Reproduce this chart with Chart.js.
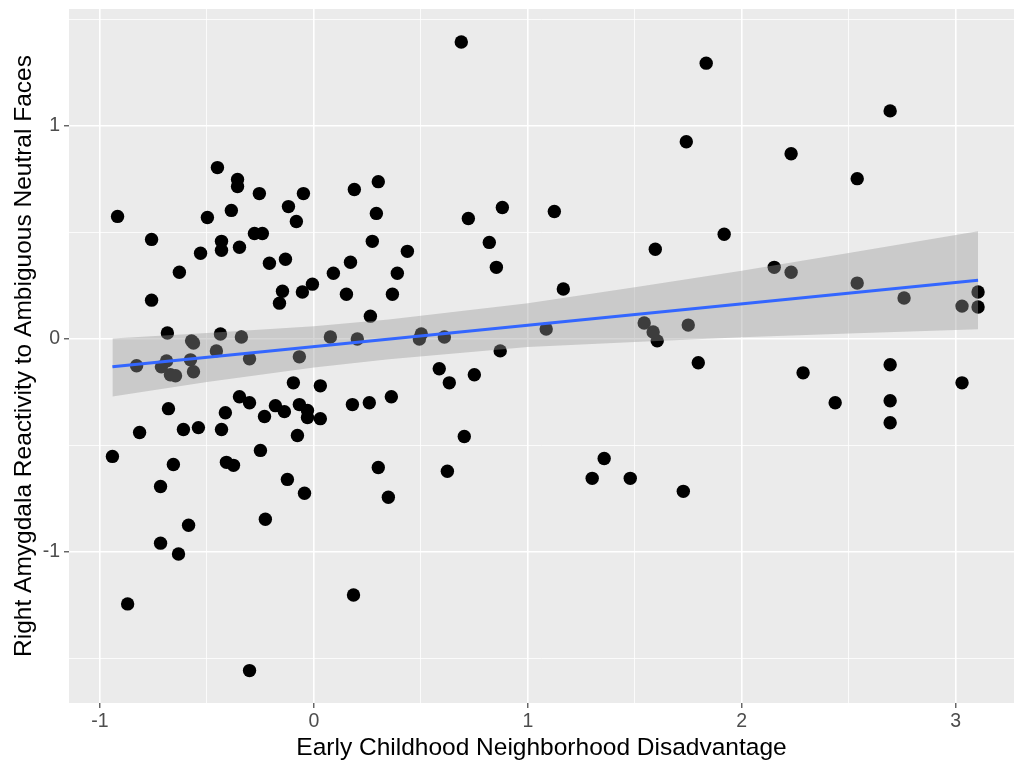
<!DOCTYPE html>
<html>
<head>
<meta charset="utf-8">
<title>Right Amygdala Reactivity vs Early Childhood Neighborhood Disadvantage</title>
<script src="https://cdn.jsdelivr.net/npm/chart.js@4.4.1/dist/chart.umd.min.js"></script>
<style>
  html, body { margin: 0; padding: 0; background: #ffffff; }
  canvas { display: block; }
</style>
</head>
<body>
<canvas id="scatterChart" width="1014" height="761"></canvas>
<script>
// participants: neighborhood disadvantage (x) and amygdala reactivity (y)
const xValues = [
  -0.918, -0.759, -0.451, -0.357, -0.357, -0.255, -0.498, -0.386, -0.119, -0.049,
  -0.082, -0.278, -0.241, -0.432, -0.432, -0.348, -0.530, -0.208, -0.133, 0.689,
  0.189, 0.301, 0.292, 0.273, 0.437, 0.171, 0.722, 0.881, 1.124, 0.820,
  1.834, 2.694, 1.741, 2.231, 2.540, 1.918, 1.596, -0.629, -0.759, 0.091,
  -0.007, -0.054, -0.147, -0.161, -0.685, -0.437, -0.339, 0.077, -0.572, -0.563,
  -0.456, -0.829, -0.689, -0.713, -0.671, -0.647, -0.577, -0.563, -0.301, -0.068,
  -0.096, 0.030, -0.348, -0.301, -0.680, -0.414, -0.231, -0.180, -0.138, -0.068,
  -0.030, -0.030, 0.030, -0.077, -0.610, -0.540, -0.432, -0.815, -0.250, -0.942,
  -0.657, -0.409, -0.376, -0.124, -0.717, -0.044, 0.152, 0.390, 0.367, 0.264,
  0.853, 1.166, 0.203, 0.502, 0.493, 0.610, 1.086, 0.871, 0.586, 0.633,
  0.750, 0.180, 0.259, 0.362, 0.703, 0.301, 0.624, 1.357, 1.301, 1.479,
  0.348, 2.152, 2.231, 2.540, 2.759, 3.105, 3.030, 3.105, 1.544, 1.586,
  1.605, 1.750, 1.797, 2.287, 2.437, 2.694, 2.694, 2.694, 3.030, 1.727,
  -0.227, -0.586, -0.717, -0.633, -0.871, -0.301, 0.185
];
const yValues = [
  0.575, 0.467, 0.804, 0.748, 0.715, 0.682, 0.570, 0.603, 0.621, 0.682,
  0.551, 0.495, 0.495, 0.458, 0.416, 0.430, 0.402, 0.355, 0.374, 1.393,
  0.701, 0.738, 0.589, 0.458, 0.411, 0.360, 0.565, 0.617, 0.598, 0.453,
  1.294, 1.070, 0.925, 0.869, 0.752, 0.491, 0.421, 0.313, 0.182, 0.308,
  0.257, 0.220, 0.224, 0.168, 0.028, 0.023, 0.009, 0.009, -0.009, -0.019,
  -0.056, -0.126, -0.103, -0.131, -0.168, -0.173, -0.098, -0.154, -0.093, -0.084,
  -0.206, -0.220, -0.271, -0.299, -0.327, -0.346, -0.364, -0.313, -0.341, -0.308,
  -0.336, -0.369, -0.374, -0.453, -0.425, -0.416, -0.425, -0.439, -0.523, -0.551,
  -0.589, -0.579, -0.593, -0.659, -0.692, -0.724, 0.210, 0.308, 0.210, 0.107,
  0.336, 0.234, 0.000, 0.023, 0.000, 0.009, 0.047, -0.056, -0.140, -0.206,
  -0.168, -0.308, -0.299, -0.271, -0.458, -0.603, -0.621, -0.561, -0.654, -0.654,
  -0.743, 0.336, 0.313, 0.262, 0.192, 0.220, 0.154, 0.150, 0.075, 0.033,
  -0.009, 0.065, -0.112, -0.159, -0.299, -0.121, -0.290, -0.393, -0.206, -0.715,
  -0.846, -0.874, -0.958, -1.009, -1.243, -1.556, -1.201
];

// linear fit and its confidence band
const fitX = [-0.942, 3.105];
const fitY = [-0.13, 0.275];
const bandX = [-0.942, -0.5, 0, 0.35, 1, 1.5, 2, 2.5, 3.105];
const bandUpper = [0.002, 0.028, 0.06, 0.091, 0.168, 0.242, 0.32, 0.403, 0.505];
const bandLower = [-0.27, -0.202, -0.134, -0.095, -0.038, -0.014, 0.008, 0.025, 0.045];

// axis ticks: majors are labelled, minors only get a thin grid line
const xTickValues = [-1, -0.5, 0, 0.5, 1, 1.5, 2, 2.5, 3];
const yTickValues = [-1.5, -1, -0.5, 0, 0.5, 1, 1.5];

const xTitle = "Early Childhood Neighborhood Disadvantage";
const yTitle = "Right Amygdala Reactivity to Ambiguous Neutral Faces";

Chart.defaults.font.family = "'Liberation Sans', Arial, Helvetica, sans-serif";

const isMajor = (v) => Number.isInteger(v);

// grey ggplot-style panel behind the grid
const panelBackground = {
  id: "panelBackground",
  beforeDraw(chart) {
    const { ctx, chartArea } = chart;
    ctx.save();
    ctx.fillStyle = "#EBEBEB";
    ctx.fillRect(
      chartArea.left,
      chartArea.top,
      chartArea.right - chartArea.left,
      chartArea.bottom - chartArea.top
    );
    ctx.restore();
  },
};

function toPoints(xs, ys) {
  return xs.map((x, i) => ({ x: x, y: ys[i] }));
}

function axisGrid() {
  return {
    color: "#FFFFFF",
    lineWidth: (c) => (c.tick && isMajor(c.tick.value) ? 1.6 : 0.8),
    tickColor: (c) =>
      c.tick && isMajor(c.tick.value) ? "#333333" : "rgba(0,0,0,0)",
    tickLength: 5,
    tickWidth: 1.1,
  };
}

// fixed axis sizes so the panel lands where the original one is
function fixAxis(scale, size) {
  if (scale.isHorizontal()) {
    scale.height = size;
  } else {
    scale.width = size;
  }
  scale.paddingTop = 0;
  scale.paddingBottom = 0;
  scale.paddingLeft = 0;
  scale.paddingRight = 0;
}

const ctx = document.getElementById("scatterChart").getContext("2d");

new Chart(ctx, {
  type: "scatter",
  data: {
    datasets: [
      {
        type: "line",
        label: "fit",
        data: toPoints(fitX, fitY),
        borderColor: "#3366FF",
        borderWidth: 3,
        pointRadius: 0,
        fill: false,
        order: 0,
      },
      {
        type: "line",
        label: "upper",
        data: toPoints(bandX, bandUpper),
        borderColor: "rgba(0,0,0,0)",
        borderWidth: 0,
        pointRadius: 0,
        backgroundColor: "rgba(153,153,153,0.4)",
        fill: "+1",
        order: 1,
      },
      {
        type: "line",
        label: "lower",
        data: toPoints(bandX, bandLower),
        borderColor: "rgba(0,0,0,0)",
        borderWidth: 0,
        pointRadius: 0,
        fill: false,
        order: 2,
      },
      {
        label: "participants",
        data: toPoints(xValues, yValues),
        backgroundColor: "#000000",
        borderWidth: 0,
        pointRadius: 6.7,
        pointHoverRadius: 6.7,
        order: 3,
      },
    ],
  },
  options: {
    responsive: false,
    devicePixelRatio: 1,
    animation: false,
    layout: {
      autoPadding: false,
      padding: { top: 9, left: 0, right: 0, bottom: 0 },
    },
    plugins: {
      legend: { display: false },
      tooltip: { enabled: false },
    },
    scales: {
      x: {
        type: "linear",
        min: -1.145,
        max: 3.273,
        afterBuildTicks: (scale) => {
          scale.ticks = xTickValues.map((v) => ({ value: v }));
        },
        afterFit: (scale) => fixAxis(scale, 58),
        grid: axisGrid(),
        border: { display: false },
        ticks: {
          color: "#4D4D4D",
          font: { size: 19.5 },
          padding: 2,
          maxRotation: 0,
          autoSkip: false,
          callback: (v) => (isMajor(v) ? String(v) : ""),
        },
        title: {
          display: true,
          text: xTitle,
          color: "#000000",
          font: { size: 24.5, lineHeight: 1 },
          padding: { top: 0, bottom: 1 },
        },
      },
      y: {
        type: "linear",
        min: -1.708,
        max: 1.548,
        afterBuildTicks: (scale) => {
          scale.ticks = yTickValues.map((v) => ({ value: v }));
        },
        afterFit: (scale) => fixAxis(scale, 69),
        grid: axisGrid(),
        border: { display: false },
        ticks: {
          color: "#4D4D4D",
          font: { size: 19.5 },
          padding: 4,
          autoSkip: false,
          callback: (v) => (isMajor(v) ? String(v) : ""),
        },
        title: {
          display: true,
          text: yTitle,
          color: "#000000",
          font: { size: 24.5, lineHeight: 1 },
          padding: { top: 12, bottom: 0 },
        },
      },
    },
  },
  plugins: [panelBackground],
});
</script>
</body>
</html>
